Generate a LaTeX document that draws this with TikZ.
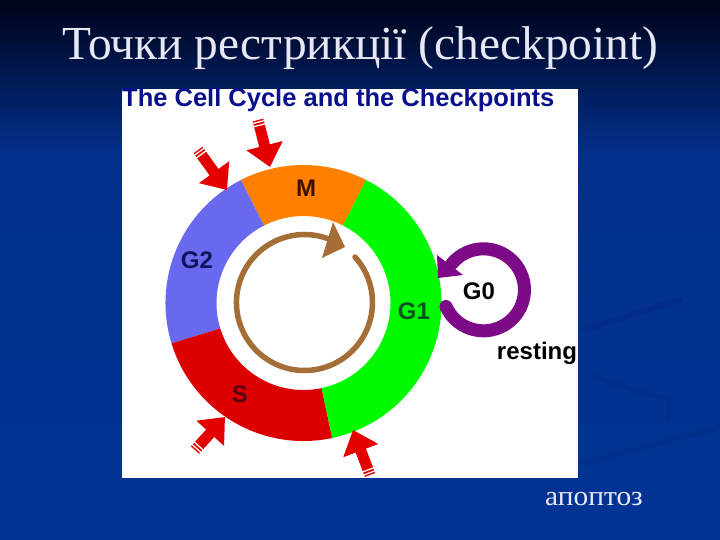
\documentclass[tikz,border=0pt]{standalone}
\usepackage{fontspec}
\setmainfont{Liberation Serif}
\setsansfont{Liberation Sans}
\usetikzlibrary{arrows.meta,calc}
\definecolor{slidetop}{RGB}{0,2,25}
\definecolor{slidemid}{RGB}{2,47,138}
\definecolor{slidelow}{RGB}{1,52,150}
\definecolor{slidestreak}{RGB}{1,38,125}
\definecolor{titletext}{RGB}{232,232,245}
\definecolor{headblue}{RGB}{10,15,140}
\definecolor{phaseM}{RGB}{255,128,0}
\definecolor{phaseGtwo}{RGB}{105,105,240}
\definecolor{phaseS}{RGB}{220,0,0}
\definecolor{phaseGone}{RGB}{0,250,0}
\definecolor{cyclebrown}{RGB}{165,110,55}
\definecolor{restpurple}{RGB}{125,10,135}
\definecolor{inkM}{RGB}{60,15,0}
\definecolor{inkGtwo}{RGB}{15,20,90}
\definecolor{inkS}{RGB}{90,0,20}
\definecolor{inkGone}{RGB}{0,85,30}
\tikzset{
  phaselabel/.style={font=\sffamily\bfseries\fontsize{24}{24}\selectfont,inner sep=0pt},
  checkarrow/.style={red!90!black,line width=11pt,-{Triangle[length=22pt,width=36pt]}},
  streak/.style={slidestreak,opacity=.3,line width=6pt,line cap=round,line join=round},
}
\begin{document}
\begin{tikzpicture}[x=1pt,y=-1pt]
\useasboundingbox (0,0) rectangle (720,540);
\shade[top color=slidetop,bottom color=slidemid] (0,0) rectangle (720,150);
\shade[top color=slidemid,bottom color=slidelow] (0,150) rectangle (720,540);
\draw[streak] (583,330) -- (680,300);
\draw[streak] (583,463) -- (720,427);
\draw[streak] (593,377) -- (670,400) -- (668,420);
\fill[white] (122,89) rectangle (578,478);
\node[text=titletext,font=\fontsize{47.4}{47.4}\selectfont,inner sep=0pt,anchor=base] (title) at (360.5,60) {Точки рестрикції (checkpoint)};
\node[text=headblue,font=\sffamily\bfseries\fontsize{25.5}{25.5}\selectfont,anchor=base west,inner sep=0pt] (head) at (122,107) {The Cell Cycle and the Checkpoints};
% ring
\coordinate (centre) at (303.5,303);
\foreach \a/\b/\c in {117/63/phaseM, 197/117/phaseGtwo, 282/197/phaseS, 423/282/phaseGone}
  \fill[\c] ($(centre)+(-\a:138)$) arc[start angle=-\a,end angle=-\b,radius=138] -- ($(centre)+(-\b:87)$) arc[start angle=-\b,end angle=-\a,radius=87] -- cycle;
% cycle arrow
\coordinate (cyclestart) at (355,257);
\draw[cyclebrown,line width=5.5pt,line cap=round] (cyclestart) arc[start angle=-42,end angle=290,radius=68];
\fill[cyclebrown] (333,222) -- (345,247) -- (322,258) -- cycle;
% G0 loop
\coordinate (reststart) at (446,306.5);
\draw[restpurple,line width=13pt,line cap=round] (reststart) arc[start angle=156,end angle=-140,radius=41];
\fill[restpurple] (437,255) -- (438,278) -- (463,275) -- cycle;
\foreach \n/\t/\x/\y/\k in {lblM/M/306/188/inkM, lblGtwo/G2/197/260/inkGtwo, lblS/S/240/394/inkS, lblGone/G1/414/311/inkGone, lblGzero/G0/479/291/black, lblrest/resting/537/353/black}
  \node[phaselabel,text=\k] (\n) at (\x,\y) {\t};
% checkpoints
\foreach \n/\xa/\ya/\xb/\yb in {p/258/120/270/167, q/198/150/227/190, r/195/450/225/417, s/370/475/353/430}{
  \coordinate (\n tail) at (\xa,\ya);
  \coordinate (\n tip) at (\xb,\yb);
  \draw[checkarrow] (\n tail) -- (\n tip);
  \draw[white,line width=12pt,dash pattern=on 1.3pt off 2pt on 1.3pt off 100pt,dash phase=-1.5pt] (\n tail) -- (\n tip);
}
\node[text=titletext,font=\fontsize{28}{28}\selectfont,inner sep=0pt,xscale=1.05] (apo) at (594,499) {апоптоз};
\end{tikzpicture}
\end{document}
